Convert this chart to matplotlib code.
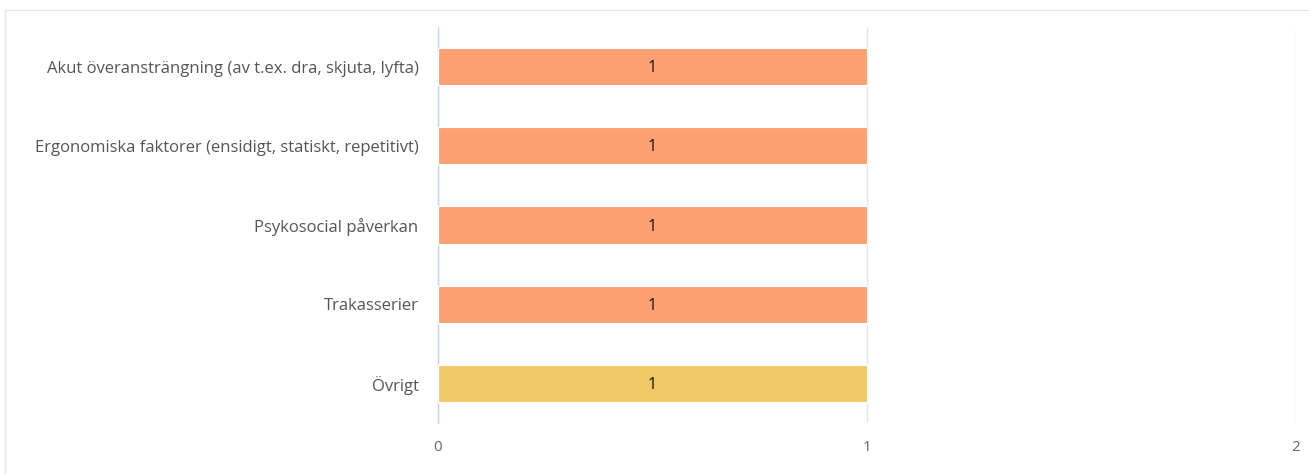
import matplotlib
matplotlib.use("Agg")
import matplotlib.pyplot as plt
from matplotlib.patches import Rectangle

categories = [
    "Akut överansträngning (av t.ex. dra, skjuta, lyfta)",
    "Ergonomiska faktorer (ensidigt, statiskt, repetitivt)",
    "Psykosocial påverkan",
    "Trakasserier",
    "Övrigt",
]
values = [1, 1, 1, 1, 1]
colors = ["#FFA072", "#FFA072", "#FFA072", "#FFA072", "#F0C966"]
xticks = [0, 1, 2]

plt.rcParams['font.family'] = ['Open Sans', 'DejaVu Sans']

fig = plt.figure(figsize=(13.09, 4.74), dpi=100)
W, H = 1309, 474

# card border
fig.patches.append(Rectangle((5 / W, -0.01), 1.1, 1 - 10 / H + 0.01,
                             transform=fig.transFigure, fill=False,
                             edgecolor="#e8e8e8", linewidth=1))

ax = fig.add_axes([438 / W, 51 / H, 858 / W, 396 / H])
y = list(range(len(categories)))
ax.barh(y, values, height=0.47, color=colors, edgecolor="white", linewidth=0.8, zorder=3)
for yi, v in zip(y, values):
    ax.text(v / 2, yi + 0.02, str(v), ha="center", va="center", fontsize=11.5, color="#111111", zorder=4)

ax.set_xlim(0, 2)
ax.set_ylim(len(categories) - 0.5, -0.5)
ax.set_yticks(y)
ax.set_yticklabels(categories, fontsize=12, color="#555555")
ax.set_xticks(xticks)
ax.set_xticklabels([str(t) for t in xticks], fontsize=11, color="#666666")
ax.tick_params(axis="both", length=0)
ax.tick_params(axis="y", pad=14)
ax.tick_params(axis="x", pad=12)
for s in ["top", "right", "bottom"]:
    ax.spines[s].set_visible(False)
ax.spines["left"].set_color("#ccd6eb")
ax.spines["left"].set_linewidth(1)
ax.xaxis.grid(True, color="#e6e6e6", linewidth=1, zorder=0)
ax.set_axisbelow(True)

fig.savefig("out.png", dpi=100)
